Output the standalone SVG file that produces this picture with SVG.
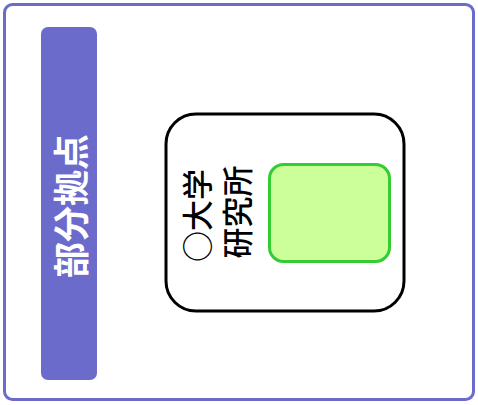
<svg xmlns="http://www.w3.org/2000/svg" width="478" height="405" viewBox="0 0 478 405">
  <style>
    .cjk { font-family: "Noto Sans CJK JP", "Noto Sans CJK SC", sans-serif; }
    .lane-label { fill: #ffffff; font-size: 36px; font-weight: bold; }
    .node-label { fill: #000000; font-size: 31px; font-weight: 500; }
  </style>
  <rect width="478" height="405" fill="#ffffff"/>
  <g id="frame">
    <rect x="4.5" y="4.5" width="469" height="395" rx="8" ry="8" fill="#ffffff" stroke="#6b6bcc" stroke-width="3"/>
  </g>
  <g id="lane">
    <rect x="41" y="27" width="56" height="353" rx="7" ry="7" fill="#6b6bcc"/>
    <text class="cjk lane-label" transform="translate(69,206) rotate(-90)" text-anchor="middle" dominant-baseline="central">部分拠点</text>
  </g>
  <g id="node-university">
    <rect x="166" y="114" width="238" height="197" rx="30" ry="30" fill="#ffffff" stroke="#000000" stroke-width="3"/>
    <text class="cjk node-label" transform="translate(215,212) rotate(-90)" text-anchor="middle" dominant-baseline="central">
      <tspan x="0" y="-20">○大学</tspan>
      <tspan x="0" y="20">研究所</tspan>
    </text>
  </g>
  <g id="node-green">
    <rect x="269.5" y="164.5" width="120" height="97" rx="14" ry="14" fill="#ccff99" stroke="#33cc33" stroke-width="3"/>
  </g>
  <g id="connectors"></g>
</svg>
